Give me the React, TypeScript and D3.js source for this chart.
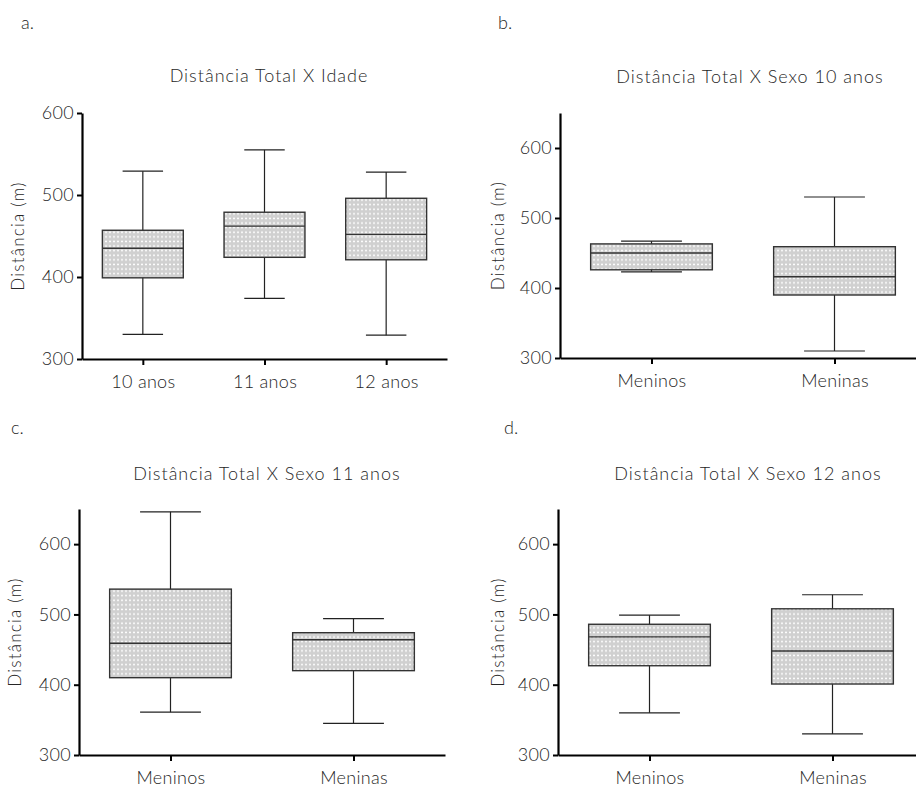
import React, { useRef, useEffect } from 'react';
import * as d3 from 'd3';

// panel a: distance by age
const idadeCats = ['10 anos', '11 anos', '12 anos'];
const idadeMin = [330, 374, 329];
const idadeQ1 = [399, 424, 421];
const idadeMedian = [435, 462, 452];
const idadeQ3 = [457, 479, 496];
const idadeMax = [529, 555, 528];

// panels b-d: distance by sex
const sexoCats = ['Meninos', 'Meninas'];
const sexo10Min = [423, 310];
const sexo10Q1 = [426, 390];
const sexo10Median = [450, 416];
const sexo10Q3 = [463, 459];
const sexo10Max = [467, 530];

const sexo11Min = [361, 345];
const sexo11Q1 = [410, 420];
const sexo11Median = [459, 464];
const sexo11Q3 = [536, 474];
const sexo11Max = [646, 494];

const sexo12Min = [360, 330];
const sexo12Q1 = [427, 401];
const sexo12Median = [468, 448];
const sexo12Q3 = [486, 508];
const sexo12Max = [499, 528];

const yTicks = [300, 400, 500, 600];

const FONT = "Lato, 'Open Sans', sans-serif";
const TEXT = '#262626';

type Stats = { min: number[]; q1: number[]; median: number[]; q3: number[]; max: number[] };

const panels = [
  {
    letter: 'a.', title: 'Distância Total X Idade', cats: idadeCats,
    stats: { min: idadeMin, q1: idadeQ1, median: idadeMedian, q3: idadeQ3, max: idadeMax },
    yMax: 600, yRange: [359, 113], xRange: [82, 447],
    titleX: 269, titleY: 82, letterX: 21, letterY: 29, yLabelX: 18,
  },
  {
    letter: 'b.', title: 'Distância Total X Sexo 10 anos', cats: sexoCats,
    stats: { min: sexo10Min, q1: sexo10Q1, median: sexo10Median, q3: sexo10Q3, max: sexo10Max },
    yMax: 650, yRange: [358, 113], xRange: [560, 926],
    titleX: 750, titleY: 83, letterX: 498, letterY: 29, yLabelX: 498,
  },
  {
    letter: 'c.', title: 'Distância Total X Sexo 11 anos', cats: sexoCats,
    stats: { min: sexo11Min, q1: sexo11Q1, median: sexo11Median, q3: sexo11Q3, max: sexo11Max },
    yMax: 650, yRange: [755, 509], xRange: [79, 445],
    titleX: 267, titleY: 480, letterX: 11, letterY: 434, yLabelX: 15,
  },
  {
    letter: 'd.', title: 'Distância Total X Sexo 12 anos', cats: sexoCats,
    stats: { min: sexo12Min, q1: sexo12Q1, median: sexo12Median, q3: sexo12Q3, max: sexo12Max },
    yMax: 650, yRange: [755, 509], xRange: [558, 924],
    titleX: 748, titleY: 480, letterX: 504, letterY: 434, yLabelX: 498,
  },
];

const App = () => {
  const svgRef = useRef<SVGSVGElement>(null);

  useEffect(() => {
    const svg = d3.select(svgRef.current);
    svg.selectAll('*').remove();

    // dotted grey fill of the boxes
    const pat = svg.append('defs').append('pattern')
      .attr('id', 'dots')
      .attr('patternUnits', 'userSpaceOnUse')
      .attr('width', 4)
      .attr('height', 4.6);
    pat.append('rect').attr('width', 4).attr('height', 4.6).attr('fill', '#d0d0d0');
    pat.append('rect').attr('x', 1).attr('y', 1.5).attr('width', 2).attr('height', 1.5).attr('fill', '#fcfcfc');

    panels.forEach((p) => {
      const g = svg.append('g');
      const st = p.stats as Stats;

      const y = d3.scaleLinear().domain([300, p.yMax]).range(p.yRange);
      const x = d3.scalePoint().domain(p.cats).range(p.xRange).padding(0.5);
      const boxW = x.step() * 0.665;

      g.append('text')
        .attr('x', p.letterX).attr('y', p.letterY)
        .style('font-size', '18px').style('font-family', FONT).style('font-weight', 300)
        .attr('fill', TEXT).text(p.letter);

      g.append('text')
        .attr('x', p.titleX).attr('y', p.titleY)
        .attr('text-anchor', 'middle')
        .style('font-size', '18px').style('font-family', FONT).style('font-weight', 300)
        .style('letter-spacing', '1px')
        .attr('fill', TEXT).text(p.title);

      const midY = (p.yRange[0] + p.yRange[1]) / 2;
      g.append('text')
        .attr('transform', `translate(${p.yLabelX}, ${midY}) rotate(-90)`)
        .attr('text-anchor', 'middle')
        .attr('dy', '0.35em')
        .style('font-size', '17px').style('font-family', FONT).style('font-weight', 300)
        .style('letter-spacing', '1.2px')
        .attr('fill', TEXT).text('Distância (m)');

      // boxes
      p.cats.forEach((c, i) => {
        const cx = x(c) as number;
        g.append('line')
          .attr('x1', cx).attr('x2', cx)
          .attr('y1', y(st.max[i])).attr('y2', y(st.min[i]))
          .attr('stroke', '#222').attr('stroke-width', 1.2);
        [st.max[i], st.min[i]].forEach((v) => {
          g.append('line')
            .attr('x1', cx - boxW / 4).attr('x2', cx + boxW / 4)
            .attr('y1', y(v)).attr('y2', y(v))
            .attr('stroke', '#222').attr('stroke-width', 1.2);
        });
        g.append('rect')
          .attr('x', cx - boxW / 2).attr('width', boxW)
          .attr('y', y(st.q3[i])).attr('height', y(st.q1[i]) - y(st.q3[i]))
          .attr('fill', 'url(#dots)')
          .attr('stroke', '#333').attr('stroke-width', 1.4);
        g.append('line')
          .attr('x1', cx - boxW / 2).attr('x2', cx + boxW / 2)
          .attr('y1', y(st.median[i])).attr('y2', y(st.median[i]))
          .attr('stroke', '#333').attr('stroke-width', 1.4);
      });

      const yAxis = g.append('g')
        .attr('transform', `translate(${p.xRange[0]},0)`)
        .call(d3.axisLeft(y).tickValues(yTicks).tickSize(5).tickSizeOuter(0).tickPadding(3));
      const xAxis = g.append('g')
        .attr('transform', `translate(0,${p.yRange[0]})`)
        .call(d3.axisBottom(x).tickSize(6).tickSizeOuter(0).tickPadding(10));

      [yAxis, xAxis].forEach((ax) => {
        ax.select('.domain').attr('stroke', '#000').attr('stroke-width', 2.2);
        ax.selectAll('.tick line').attr('stroke', '#000').attr('stroke-width', 2);
        ax.selectAll('.tick text')
          .style('font-size', '18px').style('font-family', FONT).style('font-weight', 300)
          .style('letter-spacing', '0.3px')
          .attr('fill', TEXT);
      });
    });
  }, []);

  return (
    <svg
      ref={svgRef}
      width={916}
      height={787}
      style={{ position: 'absolute', left: 0, top: 0, background: '#fff' }}
    />
  );
};

export default App;
